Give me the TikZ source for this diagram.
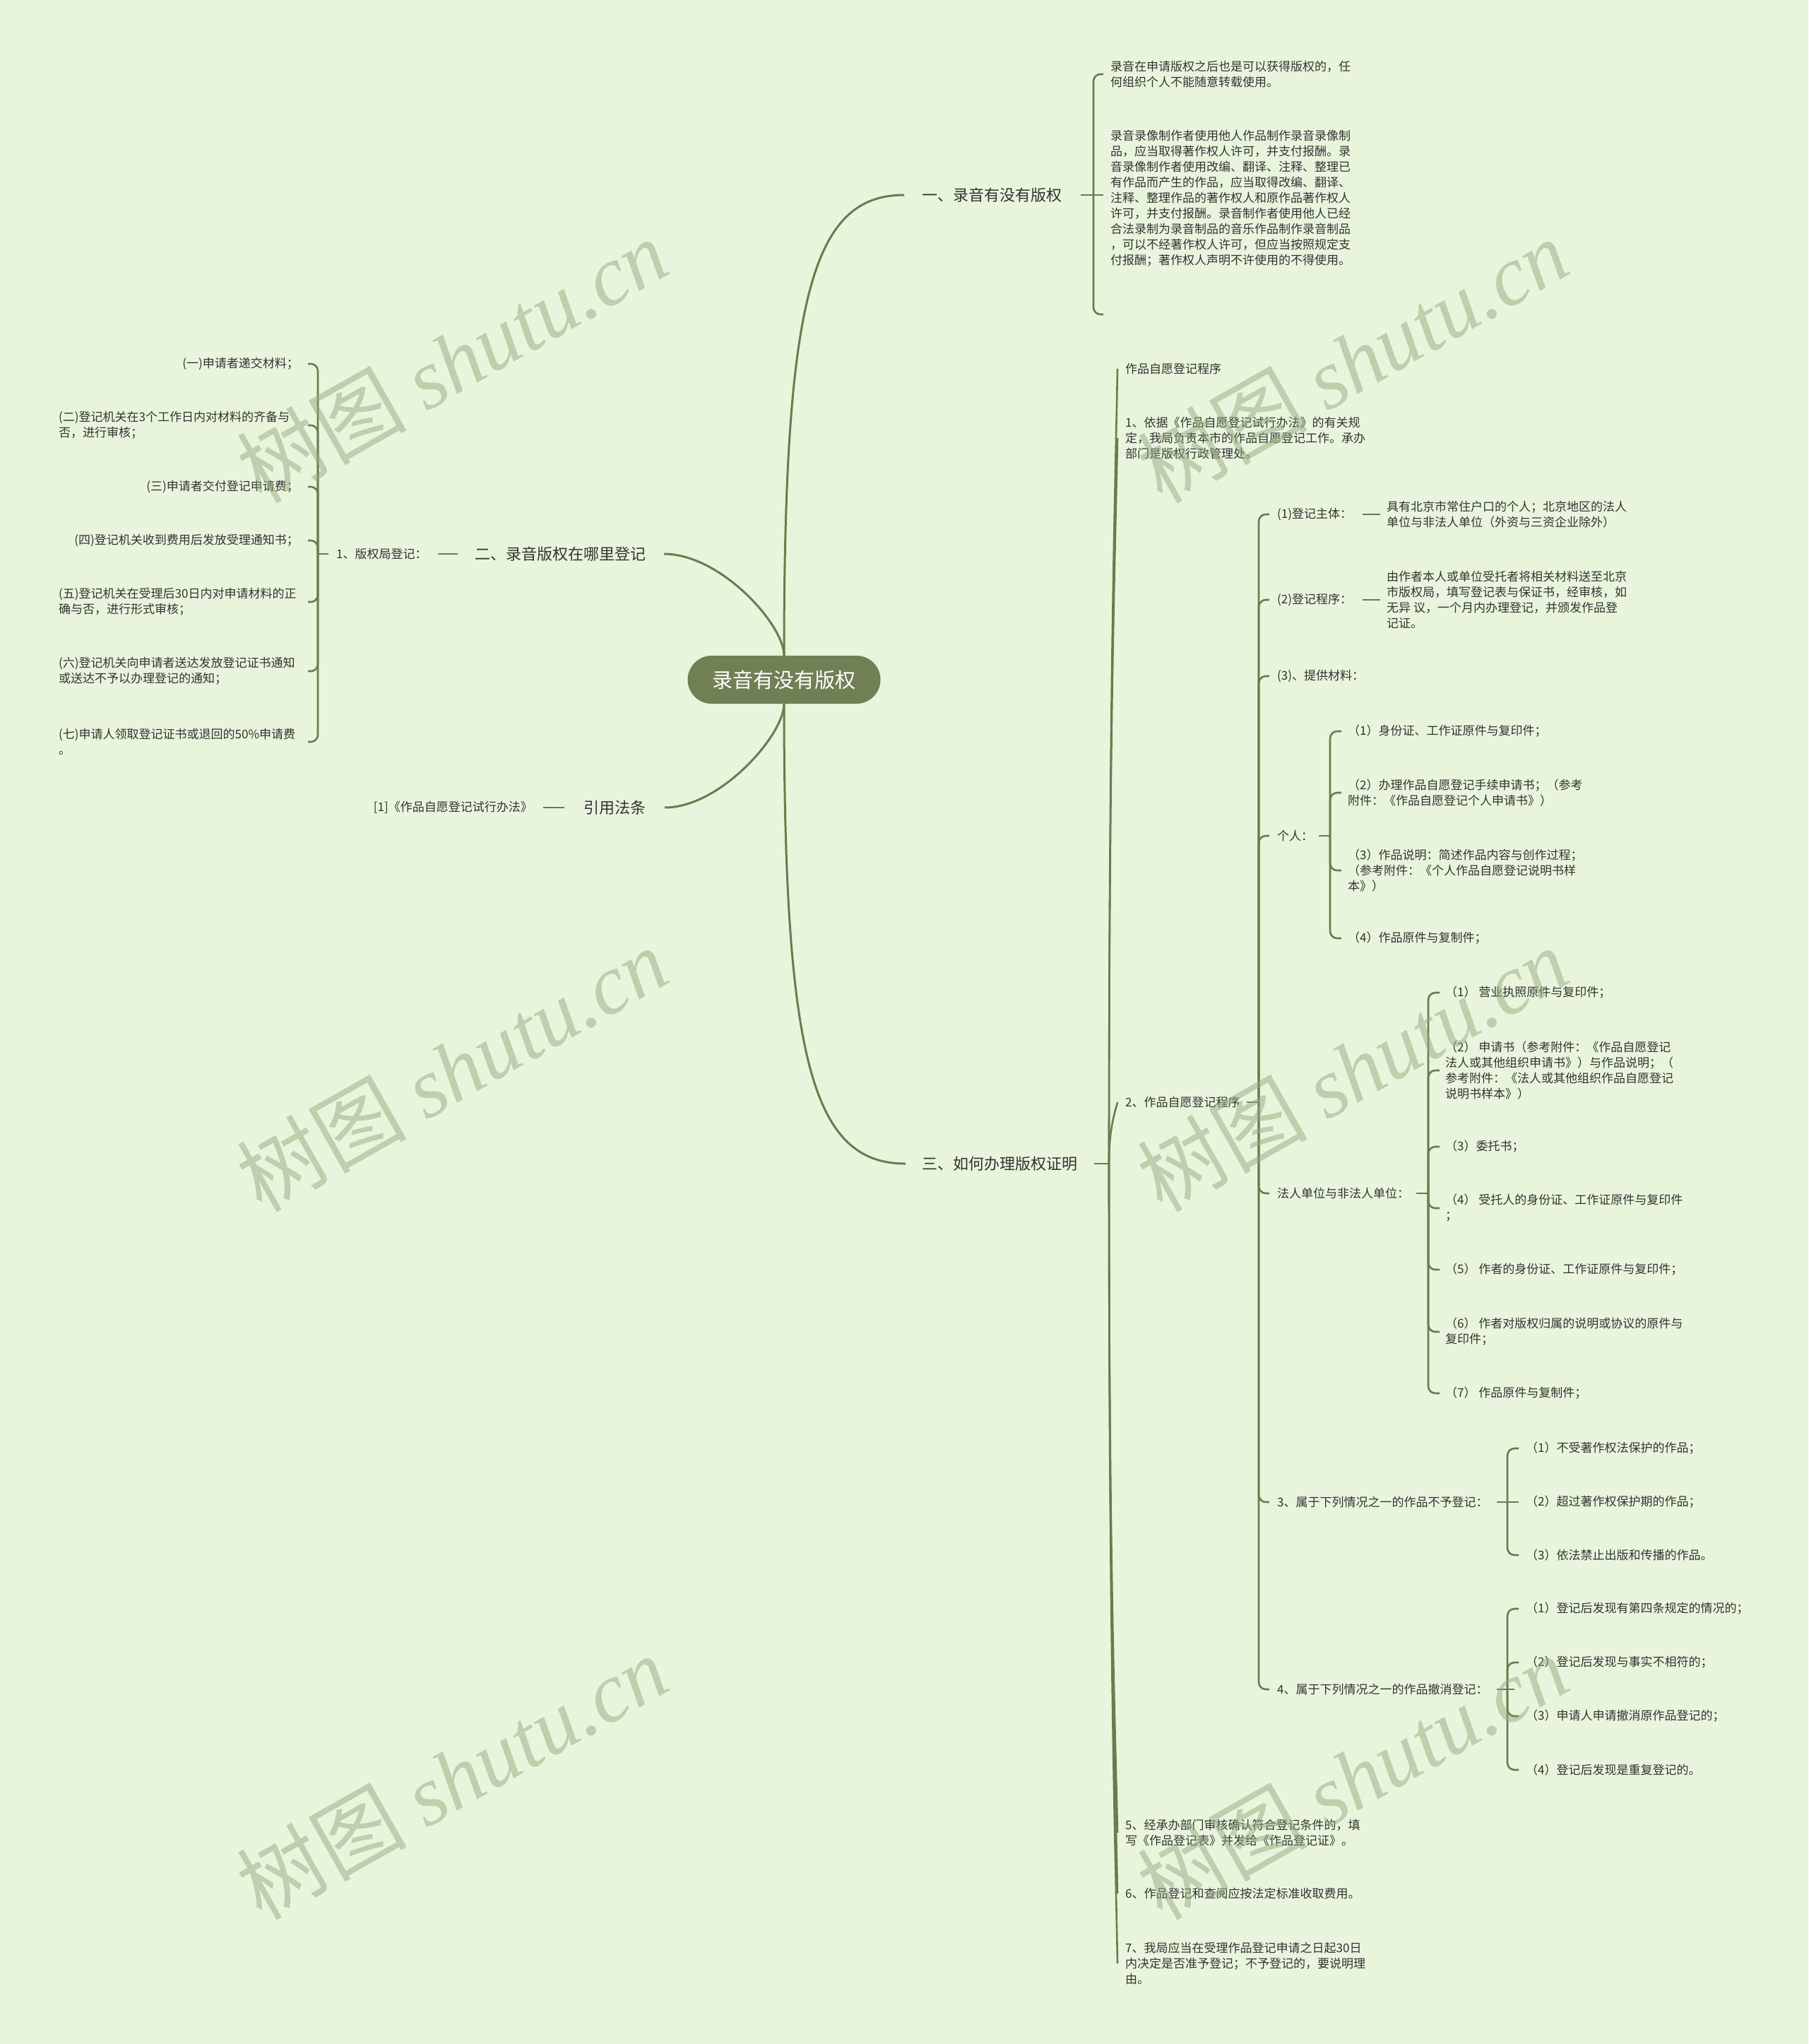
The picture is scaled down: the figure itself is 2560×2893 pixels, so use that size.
\documentclass[tikz,border=0pt]{standalone}
\usepackage{fontspec}
\setmainfont{Noto Sans CJK SC}
\newfontfamily\wmlatin{Liberation Serif}
\definecolor{bgc}{RGB}{232,245,220}
\definecolor{linec}{RGB}{108,123,77}
\definecolor{rootc}{RGB}{112,128,84}
\definecolor{txtc}{RGB}{51,51,51}
\definecolor{wmc}{RGB}{150,170,130}
\tikzset{
  conn/.style={draw=linec, line width=2.6pt},
  mainconn/.style={draw=linec, line width=3pt},
  hook/.style={conn, rounded corners=10pt},
  small/.style={font=\fontsize{17}{22}\selectfont, text=txtc, inner sep=0pt, align=left},
  lw/.style={small, anchor=west},
  le/.style={small, anchor=east},
  big/.style={font=\fontsize{22}{26}\selectfont, text=txtc, inner sep=0pt},
  rootbox/.style={fill=rootc, rounded corners=34pt, minimum width=273pt, minimum height=68pt,
    text=white, font=\fontsize{29}{34}\selectfont, inner sep=0pt},
  wm/.style={font=\fontsize{120}{120}\selectfont, text=wmc, text opacity=0.5, rotate=29.5, inner sep=0pt}
}
\begin{document}
\begin{tikzpicture}[x=1pt,y=-1pt]
\fill[bgc] (0,0) rectangle (2560,2893);
\useasboundingbox (0,0) rectangle (2560,2893);

% root and main branches
\node[rootbox] (root) at (1110,962) {录音有没有版权};
\node[big, anchor=west] (n1) at (1305,276) {一、录音有没有版权};
\node[big, anchor=east] (n2) at (915,784) {二、录音版权在哪里登记};
\node[big, anchor=east] (n3) at (915,1143) {引用法条};
\node[big, anchor=west] (n4) at (1305,1647) {三、如何办理版权证明};

\draw[mainconn] (root.north) .. controls (1110,420) and (1150,276) .. ([xshift=-25pt]n1.west);
\draw[mainconn] (root.north) .. controls (1110,884) and (1020,784) .. ([xshift=25pt]n2.east);
\draw[mainconn] (root.south) .. controls (1110,1040) and (1020,1143) .. ([xshift=26pt]n3.east);
\draw[mainconn] (root.south) .. controls (1110,1500) and (1150,1647) .. ([xshift=-23pt]n4.west);

% branch one
\coordinate (b1) at (1548,276);
\node[lw] (a1) at (1572,105) {录音在申请版权之后也是可以获得版权的，任\\何组织个人不能随意转载使用。};
\node[lw] (a2) at (1572,281) {录音录像制作者使用他人作品制作录音录像制\\品，应当取得著作权人许可，并支付报酬。录\\音录像制作者使用改编、翻译、注释、整理已\\有作品而产生的作品，应当取得改编、翻译、\\注释、整理作品的著作权人和原作品著作权人\\许可，并支付报酬。录音制作者使用他人已经\\合法录制为录音制品的音乐作品制作录音制品\\，可以不经著作权人许可，但应当按照规定支\\付报酬；著作权人声明不许使用的不得使用。};
\coordinate (a2h) at (1562,445);
\draw[conn] ([xshift=27pt]n1.east) -- ([xshift=14pt]b1);
\draw[hook] (b1) |- ([xshift=-10pt]a1.west);
\draw[hook] (b1) |- (a2h);

% branch two
\node[small, anchor=west] (k) at (476,784) {1、版权局登记：};
\draw[conn] ([xshift=-25pt]n2.west) -- ([xshift=15pt]k.east);
\coordinate (bk) at (450,784);
\coordinate (bkh) at (436,784);
\draw[conn] ([xshift=-11pt]k.west) -- (bk);
\node[le] (l1) at (423,515) {(一)申请者递交材料；};
\node[lw] (l2) at (83,602) {(二)登记机关在3个工作日内对材料的齐备与\\否，进行审核；};
\node[le] (l3) at (423,689) {(三)申请者交付登记申请费；};
\node[le] (l4) at (423,765) {(四)登记机关收到费用后发放受理通知书；};
\node[lw] (l5) at (83,852) {(五)登记机关在受理后30日内对申请材料的正\\确与否，进行形式审核；};
\node[lw] (l6) at (83,950) {(六)登记机关向申请者送达发放登记证书通知\\或送达不予以办理登记的通知；};
\node[lw] (l7) at (83,1050) {(七)申请人领取登记证书或退回的50\%申请费\\。};
\foreach \c in {l1,l2,l3,l4,l5,l6,l7}{
  \draw[hook] (bk) |- (bkh |- \c.east);
}

% citation branch
\node[small, anchor=east] (r1) at (754,1143) {[1]《作品自愿登记试行办法》};
\draw[conn] ([xshift=-28pt]n3.west) -- ([xshift=15pt]r1.east);

% branch three
\coordinate (b3) at (1570,1647);
\draw[conn] ([xshift=24pt]n4.east) -- (b3);
\node[lw] (c0) at (1593,522) {作品自愿登记程序};
\node[lw] (c1) at (1593,620) {1、依据《作品自愿登记试行办法》的有关规\\定，我局负责本市的作品自愿登记工作。承办\\部门是版权行政管理处。};
\node[lw] (c2) at (1593,1560) {2、作品自愿登记程序};
\node[lw] (c5) at (1593,2594) {5、经承办部门审核确认符合登记条件的，填\\写《作品登记表》并发给《作品登记证》。};
\node[lw] (c6) at (1593,2680) {6、作品登记和查阅应按法定标准收取费用。};
\node[lw] (c7) at (1593,2779) {7、我局应当在受理作品登记申请之日起30日\\内决定是否准予登记；不予登记的，要说明理\\由。};
\draw[conn] (b3) .. controls (1570,972) and (1579,691) .. ([xshift=-11pt]c0.west);
\draw[conn] (b3) .. controls (1570,1031) and (1579,774) .. ([xshift=-11pt]c1.west);
\draw[conn] (b3) .. controls (1570,1595) and (1579,1573) .. ([xshift=-11pt]c2.west);
\draw[conn] (b3) .. controls (1570,2215) and (1579,2452) .. ([xshift=-11pt]c5.west);
\draw[conn] (b3) .. controls (1570,2267) and (1579,2525) .. ([xshift=-11pt]c6.west);
\draw[conn] (b3) .. controls (1570,2326) and (1579,2609) .. ([xshift=-11pt]c7.west);

% 2、 sub-tree
\coordinate (b2) at (1782,1560);
\draw[conn] ([xshift=9pt]c2.east) -- (b2);
\node[lw] (e1) at (1808,728) {(1)登记主体：};
\node[lw] (e2) at (1808,849) {(2)登记程序：};
\node[lw] (e3) at (1808,957) {(3)、提供材料：};
\node[lw] (e4) at (1808,1183) {个人：};
\node[lw] (e5) at (1808,1689) {法人单位与非法人单位：};
\node[lw] (e6) at (1808,2126) {3、属于下列情况之一的作品不予登记：};
\node[lw] (e7) at (1808,2391) {4、属于下列情况之一的作品撤消登记：};
\foreach \c in {e1,e2,e3,e4,e5,e6,e7}{
  \draw[hook] (b2) |- ([xshift=-11pt]\c.west);
}

\node[lw] (f1) at (1963,728) {具有北京市常住户口的个人；北京地区的法人\\单位与非法人单位（外资与三资企业除外）};
\node[lw] (f2) at (1963,849) {由作者本人或单位受托者将相关材料送至北京\\市版权局，填写登记表与保证书，经审核，如\\无异 议，一个月内办理登记，并颁发作品登\\记证。};
\draw[conn] ([xshift=15pt]e1.east) -- ([xshift=-9pt]f1.west);
\draw[conn] ([xshift=15pt]e2.east) -- ([xshift=-9pt]f2.west);

% 个人
\coordinate (b4) at (1883,1183);
\draw[conn] ([xshift=8pt]e4.east) -- (b4);
\node[lw] (g1) at (1908,1035) {（1）身份证、工作证原件与复印件；};
\node[lw] (g2) at (1908,1122) {（2）办理作品自愿登记手续申请书；（参考\\附件：《作品自愿登记个人申请书》）};
\node[lw] (g3) at (1908,1232) {（3）作品说明：简述作品内容与创作过程；\\（参考附件：《个人作品自愿登记说明书样\\本》）};
\node[lw] (g4) at (1908,1328) {（4）作品原件与复制件；};
\foreach \c in {g1,g2,g3,g4}{
  \draw[hook] (b4) |- ([xshift=-9pt]\c.west);
}

% 法人单位
\coordinate (b5) at (2022,1689);
\draw[conn] ([xshift=10pt]e5.east) -- (b5);
\node[lw] (h1) at (2046,1405) {（1） 营业执照原件与复印件；};
\node[lw] (h2) at (2046,1515) {（2） 申请书（参考附件：《作品自愿登记\\法人或其他组织申请书》）与作品说明；（\\参考附件：《法人或其他组织作品自愿登记\\说明书样本》）};
\node[lw] (h3) at (2046,1623) {（3）委托书；};
\node[lw] (h4) at (2046,1710) {（4） 受托人的身份证、工作证原件与复印件\\；};
\node[lw] (h5) at (2046,1797) {（5） 作者的身份证、工作证原件与复印件；};
\node[lw] (h6) at (2046,1885) {（6） 作者对版权归属的说明或协议的原件与\\复印件；};
\node[lw] (h7) at (2046,1972) {（7） 作品原件与复制件；};
\foreach \c in {h1,h2,h3,h4,h5,h6,h7}{
  \draw[hook] (b5) |- ([xshift=-8pt]\c.west);
}

% 3、
\coordinate (b6) at (2134,2126);
\draw[conn] ([xshift=12pt]e6.east) -- ([xshift=16pt]b6);
\node[lw] (i1) at (2160,2050) {（1）不受著作权法保护的作品；};
\node[lw] (i2) at (2160,2126) {（2）超过著作权保护期的作品；};
\node[lw] (i3) at (2160,2201) {（3）依法禁止出版和传播的作品。};
\draw[hook] (b6) |- ([xshift=-10pt]i1.west);
\draw[hook] (b6) |- ([xshift=-10pt]i3.west);

% 4、
\coordinate (b7) at (2134,2391);
\draw[conn] ([xshift=12pt]e7.east) -- ([xshift=10pt]b7);
\node[lw] (j1) at (2160,2277) {（1）登记后发现有第四条规定的情况的；};
\node[lw] (j2) at (2160,2353) {（2）登记后发现与事实不相符的；};
\node[lw] (j3) at (2160,2429) {（3）申请人申请撤消原作品登记的；};
\node[lw] (j4) at (2160,2505) {（4）登记后发现是重复登记的。};
\foreach \c in {j1,j2,j3,j4}{
  \draw[hook] (b7) |- ([xshift=-10pt]\c.west);
}

% watermarks
\node[wm] (w1) at (640,510) {树图 {\wmlatin\itshape shutu.cn}};
\node[wm] (w2) at (1915,510) {树图 {\wmlatin\itshape shutu.cn}};
\node[wm] (w3) at (640,1513) {树图 {\wmlatin\itshape shutu.cn}};
\node[wm] (w4) at (1915,1513) {树图 {\wmlatin\itshape shutu.cn}};
\node[wm] (w5) at (640,2515) {树图 {\wmlatin\itshape shutu.cn}};
\node[wm] (w6) at (1915,2515) {树图 {\wmlatin\itshape shutu.cn}};
\end{tikzpicture}
\end{document}
